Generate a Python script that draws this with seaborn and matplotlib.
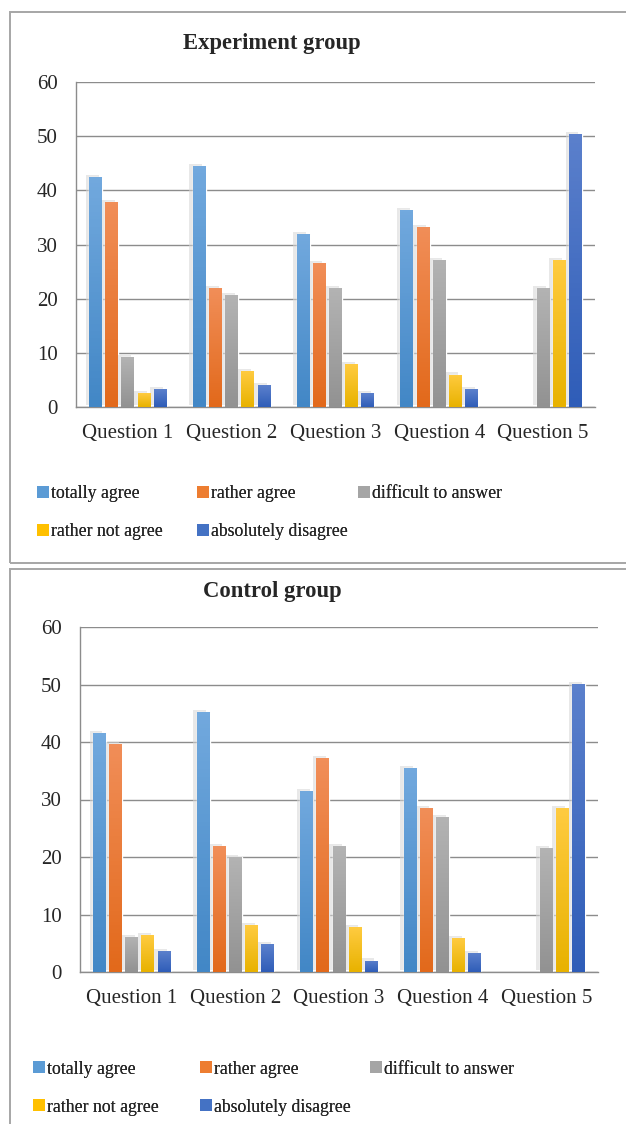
import numpy as np
import pandas as pd
import matplotlib
matplotlib.use("Agg")
import matplotlib.pyplot as plt
import matplotlib.patheffects as pe
from matplotlib.colors import LinearSegmentedColormap
from matplotlib.patches import Rectangle, Patch
import seaborn as sns

questions = ["Question 1", "Question 2", "Question 3", "Question 4", "Question 5"]
responses = ["totally agree", "rather agree", "difficult to answer",
             "rather not agree", "absolutely disagree"]
colors = ["#5B9BD5", "#ED7D31", "#A5A5A5", "#FFC000", "#4472C4"]
tops = ["#72A9DE", "#F18E58", "#B3B3B3", "#FFCB40", "#5B80CC"]
bottoms = ["#4287C6", "#E2691B", "#929292", "#E8B200", "#2F5DB8"]

# Experiment group (% per question)
exp_totally = [42.5, 44.5, 32.0, 36.4, 0]
exp_rather = [37.9, 21.9, 26.5, 33.3, 0]
exp_difficult = [9.2, 20.6, 21.9, 27.2, 21.9]
exp_rather_not = [2.5, 6.6, 7.9, 6.0, 27.2]
exp_absolutely = [3.3, 4.0, 2.5, 3.3, 50.4]

# Control group (% per question)
ctl_totally = [41.6, 45.2, 31.5, 35.5, 0]
ctl_rather = [39.7, 21.9, 37.2, 28.5, 0]
ctl_difficult = [6.1, 20.0, 21.9, 27.0, 21.5]
ctl_rather_not = [6.4, 8.1, 7.8, 5.9, 28.5]
ctl_absolutely = [3.6, 4.8, 2.0, 3.3, 50.1]


def long_table(series):
    rows = []
    for resp, vals in zip(responses, series):
        for q, v in zip(questions, vals):
            rows.append({"question": q, "response": resp, "value": v})
    return pd.DataFrame(rows)


exp_df = long_table([exp_totally, exp_rather, exp_difficult, exp_rather_not, exp_absolutely])
ctl_df = long_table([ctl_totally, ctl_rather, ctl_difficult, ctl_rather_not, ctl_absolutely])

sns.set_style("white")
plt.rcParams["font.family"] = ["Liberation Serif", "DejaVu Serif"]

fig = plt.figure(figsize=(6.26, 11.24), dpi=100)
W, H = 626, 1124

# panel frames
fig.add_artist(Rectangle((10 / W, 1 - 563 / H), 1.0, (563 - 12) / H, transform=fig.transFigure,
                         fill=False, edgecolor="#a6a6a6", linewidth=1.4))
fig.add_artist(Rectangle((10 / W, -0.01), 1.0, 1 - 569 / H + 0.01, transform=fig.transFigure,
                         fill=False, edgecolor="#a6a6a6", linewidth=1.4))


def draw(df, rect, title, title_y, legend_x, legend_y):
    ax = fig.add_axes(rect)
    sns.barplot(data=df, x="question", y="value", hue="response", hue_order=responses,
                order=questions, palette=colors, width=0.78, ax=ax, legend=False,
                errorbar=None, saturation=1)
    for i, cont in enumerate(ax.containers):
        cmap = LinearSegmentedColormap.from_list("g", [bottoms[i], tops[i]])
        for bar in cont:
            x, w, h = bar.get_x(), bar.get_width(), bar.get_height()
            bar.set_x(x + w * 0.1)
            bar.set_width(w * 0.8)
            if h <= 0:
                bar.set_visible(False)
                continue
            bar.set_path_effects([pe.SimplePatchShadow(offset=(-2.5, 1.5), shadow_rgbFace="#d6d6d6", alpha=0.55),
                                  pe.Normal()])
            bar.set_zorder(2)
            grad = np.linspace(0, 1, 64).reshape(-1, 1)
            im = ax.imshow(grad, cmap=cmap, origin="lower", aspect="auto",
                           extent=[bar.get_x(), bar.get_x() + bar.get_width(), 0, h], zorder=3)
            im.set_clip_path(bar)
    ax.set_xlim(-0.5, 4.5)
    ax.set_ylim(0, 60)
    ax.set_yticks(range(0, 61, 10))
    ax.yaxis.grid(True, color="#8c8c8c", linewidth=1.0)
    ax.set_axisbelow(True)
    for s in ["top", "right"]:
        ax.spines[s].set_visible(False)
    for s in ["left", "bottom"]:
        ax.spines[s].set_color("#8c8c8c")
        ax.spines[s].set_linewidth(1.0)
    ax.tick_params(axis="both", length=0, labelsize=15)
    ax.tick_params(axis="y", pad=13)
    ax.tick_params(axis="x", pad=12)
    ax.set_xlabel("")
    ax.set_ylabel("")
    fig.text(272 / W, 1 - title_y / H, title, ha="center", va="center",
             fontsize=16.3, fontweight="bold")
    for k, resp in enumerate(responses):
        col, row = k % 3, k // 3
        leg = fig.legend(handles=[Patch(facecolor=colors[k], edgecolor="none")], labels=[resp],
                         loc="center left", frameon=False, fontsize=12.8,
                         handlelength=0.65, handleheight=0.65, handletextpad=0.15,
                         borderpad=0, borderaxespad=0,
                         bbox_to_anchor=(legend_x[col] / W, 1 - legend_y[row] / H))
        fig.add_artist(leg)
    return ax


draw(exp_df, [76 / W, 1 - 407 / H, 519 / W, 325 / H], "Experiment group", 43,
     [37, 197, 358], [494, 532])
draw(ctl_df, [80 / W, 1 - 972 / H, 518 / W, 345 / H], "Control group", 592,
     [33, 200, 370], [1069, 1107])

fig.savefig("out.png", dpi=100)
